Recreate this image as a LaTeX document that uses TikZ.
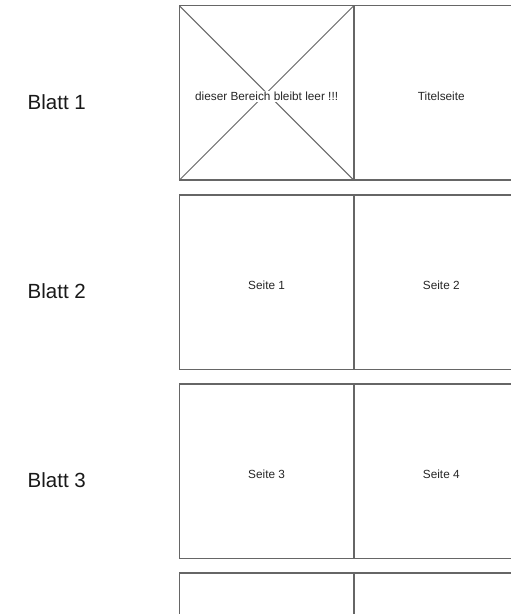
\documentclass[tikz,border=0pt]{standalone}
\usepackage{fontspec}
\setmainfont{Liberation Sans}
\definecolor{edge}{HTML}{666666}
\tikzset{
  page/.style={draw=edge, line width=1.4pt, minimum width=174.5pt, minimum height=174.5pt, inner sep=0pt, outer sep=0pt},
  pagetext/.style={font=\fontsize{11.8pt}{13pt}\selectfont, text=black!85, inner sep=0pt},
  blatt/.style={font=\fontsize{20.5pt}{24pt}\selectfont, text=black!90, anchor=west, inner sep=0pt}
}
\begin{document}
\begin{tikzpicture}[x=1pt,y=-1pt]
\useasboundingbox (0,0) rectangle (511,614);
\clip (0,0) rectangle (511,614);
\fill[white] (0,0) rectangle (511,614);
% row 1
\node[page] (l1) at (266.6,92.9) {};
\node[page] (r1) at (441.3,92.9) {};
\draw[edge, line width=1pt] (l1.north west) -- (l1.south east);
\draw[edge, line width=1pt] (l1.north east) -- (l1.south west);
\node[pagetext, fill=white, inner sep=1pt] (t1) at ([yshift=-3.5pt]l1.center) {dieser Bereich bleibt leer !!!};
\node[pagetext] (t2) at ([yshift=-3.5pt]r1.center) {Titelseite};
% row 2
\node[page] (l2) at (266.6,282.1) {};
\node[page] (r2) at (441.3,282.1) {};
\node[pagetext] (t3) at ([yshift=-3pt]l2.center) {Seite 1};
\node[pagetext] (t4) at ([yshift=-3pt]r2.center) {Seite 2};
% row 3
\node[page] (l3) at (266.6,471.2) {};
\node[page] (r3) at (441.3,471.2) {};
\node[pagetext] (t5) at ([yshift=-3pt]l3.center) {Seite 3};
\node[pagetext] (t6) at ([yshift=-3pt]r3.center) {Seite 4};
% row 4 (cut off)
\node[page] (l4) at (266.6,660.4) {};
\node[page] (r4) at (441.3,660.4) {};
% labels
\node[blatt] (b1) at (27.5,101.7) {Blatt 1};
\node[blatt] (b2) at (27.5,290.8) {Blatt 2};
\node[blatt] (b3) at (27.5,480.0) {Blatt 3};
\end{tikzpicture}
\end{document}
